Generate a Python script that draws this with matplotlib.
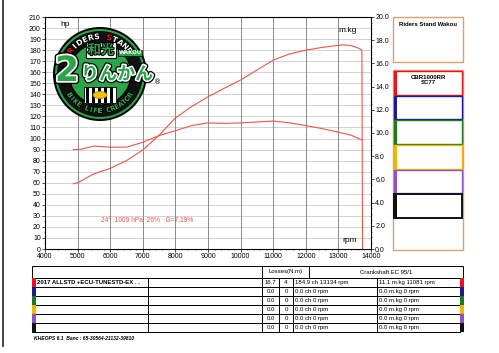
import numpy as np
import matplotlib
matplotlib.use("Agg")
import matplotlib.pyplot as plt
from matplotlib.patches import Rectangle, Circle, Ellipse
import matplotlib.patheffects as pe

plt.rcParams['font.family'] = ['Liberation Sans', 'Noto Sans CJK JP', 'DejaVu Sans']

# power curve (hp)
pw_rpm = [4870, 5000, 5500, 6000, 6500, 7000, 7500, 8000, 8500, 9000, 9500, 10000,
          10500, 11000, 11500, 12000, 12500, 13000, 13150, 13400, 13600, 13720, 13740]
pw_hp = [59, 60, 68, 73, 80, 89.6, 103, 118.6, 129, 137.8, 145.5, 153,
         162, 171, 176.5, 180, 182.5, 184.3, 184.8, 184, 182, 180, 0]

# torque curve (m.kg)
tq_rpm = [4870, 5100, 5500, 6000, 6500, 7000, 7500, 8000, 8500, 9000, 9500, 10000,
          10500, 11000, 11500, 12000, 12500, 13000, 13400, 13720]
tq_mkg = [8.56, 8.6, 8.87, 8.78, 8.78, 9.2, 9.78, 10.2, 10.64, 10.87, 10.83, 10.87,
          10.95, 11.03, 10.88, 10.64, 10.38, 10.07, 9.8, 9.4]

conditions = "24°  1009 hPa  26%   G=7.19%"
run_colors = ['#e8141c', '#1c1c8f', '#1d7a1d', '#f5b400', '#8a52c4', '#111111']
run_names = ["2017 ALLSTD +ECU-TUNESTD-EX . .", "", "", "", "", ""]
loss_a = ["16.7", "0.0", "0.0", "0.0", "0.0", "0.0"]
loss_b = ["4", "0", "0", "0", "0", "0"]
max_pw = ["184.9 ch 13134 rpm"] + ["0.0 ch 0 rpm"] * 5
max_tq = ["11.1 m.kg 11081 rpm"] + ["0.0 m.kg 0 rpm"] * 5

red = '#ec5548'
W, H = 499, 353
fig = plt.figure(figsize=(W / 100, H / 100), dpi=100)
fig.patch.set_facecolor('white')

L, R, T, B = 45, 371, 17, 249
ax = fig.add_axes([L / W, 1 - B / H, (R - L) / W, (B - T) / H])
ax.set_xlim(4000, 14000)
ax.set_ylim(0, 210)
ax.set_xticks(range(4000, 14001, 1000))
ax.set_xticks(range(4000, 14001, 200), minor=True)
ax.set_yticks(range(0, 211, 10))
ax.set_yticks(range(0, 211, 5), minor=True)
for y in range(10, 210, 10):
    ax.axhline(y, color='#cccccc', lw=0.6, zorder=0)
for x in range(5000, 14000, 1000):
    ax.axvline(x, color='#8a8a8a', lw=0.7, zorder=0)
ax.tick_params(labelsize=5, length=2, width=0.5, pad=1)
ax.tick_params(which='minor', length=1, width=0.4)
for s in ['left', 'bottom', 'right']:
    ax.spines[s].set_linewidth(0.6)
ax.spines['top'].set_color('#999999')
ax.spines['top'].set_linewidth(0.6)
ax.plot(pw_rpm, pw_hp, color=red, lw=0.8)
ax.text(5730, 26, conditions, color=red, fontsize=4.8, va='center')

ax2 = ax.twinx()
ax2.set_ylim(0, 20)
ax2.set_yticks(np.arange(0, 20.01, 2))
ax2.set_yticks(np.arange(0, 20.01, 0.5), minor=True)
ax2.set_yticklabels(["%.1f" % v for v in np.arange(0, 20.01, 2)])
ax2.tick_params(labelsize=5, length=2, width=0.5, pad=1)
ax2.tick_params(which='minor', length=1, width=0.4)
ax2.plot(tq_rpm, tq_mkg, color=red, lw=0.8)

# overlay in pixel coordinates for page furniture
ov = fig.add_axes([0, 0, 1, 1], zorder=5)
ov.set_xlim(0, W)
ov.set_ylim(H, 0)
ov.axis('off')
ov.patch.set_alpha(0)

ov.text(60, 24, "hp", fontsize=6, va='center')
ov.text(338, 30, "m.kg", fontsize=6, va='center')
ov.text(342, 241, "rpm", fontsize=6, va='center')

# scan edge
ov.plot([3, 3], [0, 346], color='#222222', lw=1.2)

# logo
cx, cy = 100, 74
green = '#2aa64a'
ov.add_patch(Circle((cx, cy), 47, fc='black', ec='none'))
ov.add_patch(Circle((cx, cy), 45, fc=green, ec='none'))
ov.add_patch(Circle((cx, cy), 43, fc='#111111', ec='none'))
ov.add_patch(Circle((cx, cy), 31, fc=green, ec='black', lw=1))


def arc_text(s, r, a0, a1, top, size, color, colors=None):
    n = len(s)
    for i, ch in enumerate(s):
        a = np.radians(a0 + (a1 - a0) * i / (n - 1))
        x = cx + r * np.cos(a)
        y = cy - r * np.sin(a)
        rot = np.degrees(a) - 90 if top else np.degrees(a) + 90
        c = colors[i] if colors else color
        t = ov.text(x, y, ch, fontsize=size, fontweight='bold', color=c, rotation=rot,
                    ha='center', va='center', family='DejaVu Sans')
        t.set_path_effects([pe.Stroke(linewidth=1.2, foreground='black'), pe.Normal()])


rs = "RIDERS STAND"
arc_text(rs, 37.5, 142, 38, True, 5.5, 'white',
         colors=['#e8141c' if i in (0, 7) else 'white' for i in range(len(rs))])
arc_text("BIKE LIFE CREATOR", 37, 215, 325, False, 5, green)

ov.add_patch(Rectangle((84, 87), 32, 16, fc='white', ec='black', lw=0.6))
for sx in range(86, 116, 6):
    ov.add_patch(Rectangle((sx, 87), 3, 16, fc='black', ec='none'))
ov.add_patch(Ellipse((100, 95), 14, 7, fc='#f2c200', ec='#b08000', lw=0.5))

t = ov.text(101, 50, "和光", fontsize=9.5, fontweight='bold', color=green, ha='center', va='center',
            family='Noto Sans CJK JP',
            bbox=dict(boxstyle='square,pad=0.1', fc='white', ec='black', lw=0.8))
t.set_path_effects([pe.Stroke(linewidth=1.5, foreground='black'), pe.Normal()])
ov.text(130, 53, "WAKOU", fontsize=4, fontweight='bold', color='white', ha='center', va='center',
        family='DejaVu Sans', bbox=dict(boxstyle='square,pad=0.15', fc=green, ec='black', lw=0.5))
t = ov.text(67, 71, "2", fontsize=25, fontweight='bold', color=green, ha='center', va='center',
            family='DejaVu Sans')
t.set_path_effects([pe.Stroke(linewidth=4.5, foreground='black'),
                    pe.Stroke(linewidth=2.5, foreground='white'), pe.Normal()])
t = ov.text(117, 74, "りんかん", fontsize=13, fontweight='bold', color=green, ha='center', va='center',
            family='Noto Sans CJK JP')
t.set_path_effects([pe.Stroke(linewidth=4, foreground='black'),
                    pe.Stroke(linewidth=2.2, foreground='white'), pe.Normal()])
ov.text(158, 82, "®", fontsize=5, ha='center', va='center', family='DejaVu Sans')

# right panel
tan = '#d6a274'
ov.add_patch(Rectangle((393, 17), 70, 45, fc='none', ec=tan, lw=1))
ov.text(428, 25, "Riders Stand Wakou", fontsize=4.3, fontweight='bold', ha='center', va='center')
ov.add_patch(Rectangle((393, 70), 70, 180, fc='none', ec=tan, lw=1))
tops = [70, 95, 119.5, 144.5, 169, 193, 218]
for i, c in enumerate(run_colors):
    y0, y1 = tops[i], tops[i + 1]
    ov.add_patch(Rectangle((394.5, y0 + 0.5), 67.5, y1 - y0 - 1, fc='none', ec=c,
                           lw=1.4 if c == '#111111' else 1))
    ov.add_patch(Rectangle((394.5, y0 + 0.5), 3, y1 - y0 - 1, fc=c, ec='none'))
ov.text(428, 80, "CBR1000RR\nSC77", fontsize=4.3, fontweight='bold', ha='center', va='center',
        linespacing=0.95)

# bottom table
tx0, tx1 = 32, 463
ov.add_patch(Rectangle((tx0, 266), tx1 - tx0, 12, fc='none', ec='black', lw=0.7))
ov.plot([262, 262], [266, 278], color='black', lw=0.7)
ov.plot([309, 309], [266, 278], color='black', lw=0.7)
ov.text(286, 272, "Losses(N.m)", fontsize=4.3, ha='center', va='center')
ov.text(386, 272, "Crankshaft EC 95/1", fontsize=4.3, ha='center', va='center')
rh = 9
for i in range(6):
    y0 = 278 + i * rh
    yc = y0 + rh / 2
    ov.add_patch(Rectangle((tx0, y0), 428, rh, fc='none', ec='black', lw=0.7))
    for xv in (148, 262, 279, 293, 377):
        ov.plot([xv, xv], [y0, y0 + rh], color='black', lw=0.7)
    ov.add_patch(Rectangle((tx0, y0), 4, rh, fc=run_colors[i], ec='none'))
    ov.add_patch(Rectangle((460, y0), 4, rh, fc=run_colors[i], ec='none'))
    ov.text(37, yc, run_names[i], fontsize=4.3, va='center', fontweight='bold')
    ov.text(270.5, yc, loss_a[i], fontsize=4.3, ha='center', va='center')
    ov.text(286, yc, loss_b[i], fontsize=4.3, ha='center', va='center')
    ov.text(295, yc, max_pw[i], fontsize=4.3, va='center')
    ov.text(379, yc, max_tq[i], fontsize=4.3, va='center')

ov.text(34, 338, "KHEOPS 6.1  Banc : 65-30564-21132-39810", fontsize=3.6, style='italic',
        fontweight='bold', va='center')

fig.savefig("out.png", dpi=100)
